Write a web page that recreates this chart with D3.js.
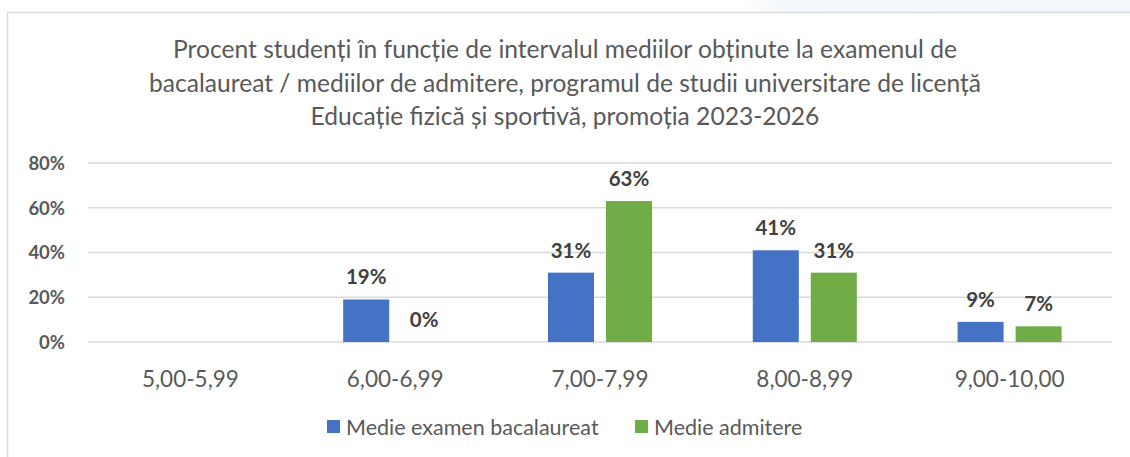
<!DOCTYPE html>
<html>
<head>
<meta charset="utf-8">
<script src="https://cdn.jsdelivr.net/npm/d3@7"></script>
<style>
  body { margin: 0; background: #fff; }
  svg { display: block; font-family: Lato, "Liberation Sans", sans-serif; }
</style>
</head>
<body>
<svg id="chart"></svg>
<script>
// data
const categories = ['5,00-5,99', '6,00-6,99', '7,00-7,99', '8,00-8,99', '9,00-10,00'];
const seriesNames = ['Medie examen bacalaureat', 'Medie admitere'];
const bacValues = [null, 19, 31, 41, 9];
const admValues = [null, 0, 63, 31, 7];
const yTicks = [0, 20, 40, 60, 80];
const titleLines = [
  'Procent studenți în funcție de intervalul mediilor obținute la examenul de',
  'bacalaureat / mediilor de admitere, programul de studii universitare de licență',
  'Educație fizică și sportivă, promoția 2023-2026'
];
const colors = ['#4472c4', '#70ad47'];

const W = 1130, H = 457;
const svg = d3.select('#chart').attr('width', W).attr('height', H);

// page strip above the chart
const grad = svg.append('defs').append('linearGradient').attr('id', 'strip')
  .attr('x1', 0).attr('x2', 1);
grad.append('stop').attr('offset', '0.66').attr('stop-color', '#ffffff');
grad.append('stop').attr('offset', '0.69').attr('stop-color', '#f4f7fb');
grad.append('stop').attr('offset', '1').attr('stop-color', '#f3f6fa');
svg.append('rect').attr('x', 0).attr('y', 0).attr('width', W).attr('height', 12)
  .attr('fill', 'url(#strip)');

// chart frame
svg.append('rect').attr('x', 7.5).attr('y', 12.5).attr('width', W + 10).attr('height', H)
  .attr('fill', '#fff').attr('stroke', '#d9d9d9').attr('stroke-width', 1.5);

// title
svg.append('g').selectAll('text').data(titleLines).enter().append('text')
  .attr('x', 565).attr('y', (d, i) => 58 + i * 33.5)
  .attr('text-anchor', 'middle')
  .attr('font-size', 24.6).attr('fill', '#595959')
  .text(d => d);

const x0 = d3.scaleBand().domain(categories).range([88, 1112])
  .paddingInner(0.492).paddingOuter(0.246);
const x1 = d3.scaleBand().domain(seriesNames).range([0, x0.bandwidth()])
  .paddingInner(0.207).paddingOuter(0);
const y = d3.scaleLinear().domain([0, 80]).range([342, 163]);

// gridlines
svg.append('g').selectAll('line').data(yTicks).enter().append('line')
  .attr('x1', 88).attr('x2', 1112)
  .attr('y1', d => y(d)).attr('y2', d => y(d))
  .attr('stroke', '#d9d9d9').attr('stroke-width', 1.5);

// y axis labels
const yAxis = d3.axisLeft(y).tickValues(yTicks).tickFormat(d => d + '%').tickSize(0).tickPadding(0);
const gy = svg.append('g').attr('transform', 'translate(65,0)').call(yAxis);
gy.select('.domain').remove();
gy.selectAll('text').attr('font-family', 'Lato, sans-serif').attr('font-size', 18.5)
  .attr('font-weight', 'bold').attr('fill', '#595959').attr('dy', '0.35em');

// x axis labels
const xAxis = d3.axisBottom(x0).tickSize(0).tickPadding(0);
const gx = svg.append('g').attr('transform', 'translate(0,379)').call(xAxis);
gx.select('.domain').remove();
gx.selectAll('text').attr('font-family', 'Lato, sans-serif').attr('font-size', 22.5)
  .attr('fill', '#595959').attr('dy', '0.35em');

// bars
const rows = categories.map((c, i) => ({ cat: c, vals: [bacValues[i], admValues[i]] }));
const groups = svg.append('g').selectAll('g').data(rows).enter().append('g')
  .attr('transform', d => `translate(${x0(d.cat)},0)`);

const cells = groups.selectAll('g').data(d => d.vals.map((v, k) => ({ name: seriesNames[k], v, k })))
  .enter().filter(d => d.v !== null);

cells.append('rect')
  .attr('x', d => x1(d.name)).attr('width', x1.bandwidth())
  .attr('y', d => y(d.v)).attr('height', d => y(0) - y(d.v))
  .attr('fill', d => colors[d.k]);

cells.append('text')
  .attr('x', d => x1(d.name) + x1.bandwidth() / 2)
  .attr('y', d => y(d.v) - 15)
  .attr('text-anchor', 'middle')
  .attr('font-size', 20.5).attr('font-weight', 'bold').attr('fill', '#404040')
  .text(d => d.v + '%');

// legend
const legendPos = [327, 635];
const lg = svg.append('g').selectAll('g').data(seriesNames).enter().append('g')
  .attr('transform', (d, i) => `translate(${legendPos[i]},420)`);
lg.append('rect').attr('width', 13).attr('height', 13).attr('fill', (d, i) => colors[i]);
lg.append('text').attr('x', 19).attr('y', 7).attr('dy', '0.35em')
  .attr('font-size', 21.5).attr('fill', '#595959').text(d => d);
</script>
</body>
</html>
